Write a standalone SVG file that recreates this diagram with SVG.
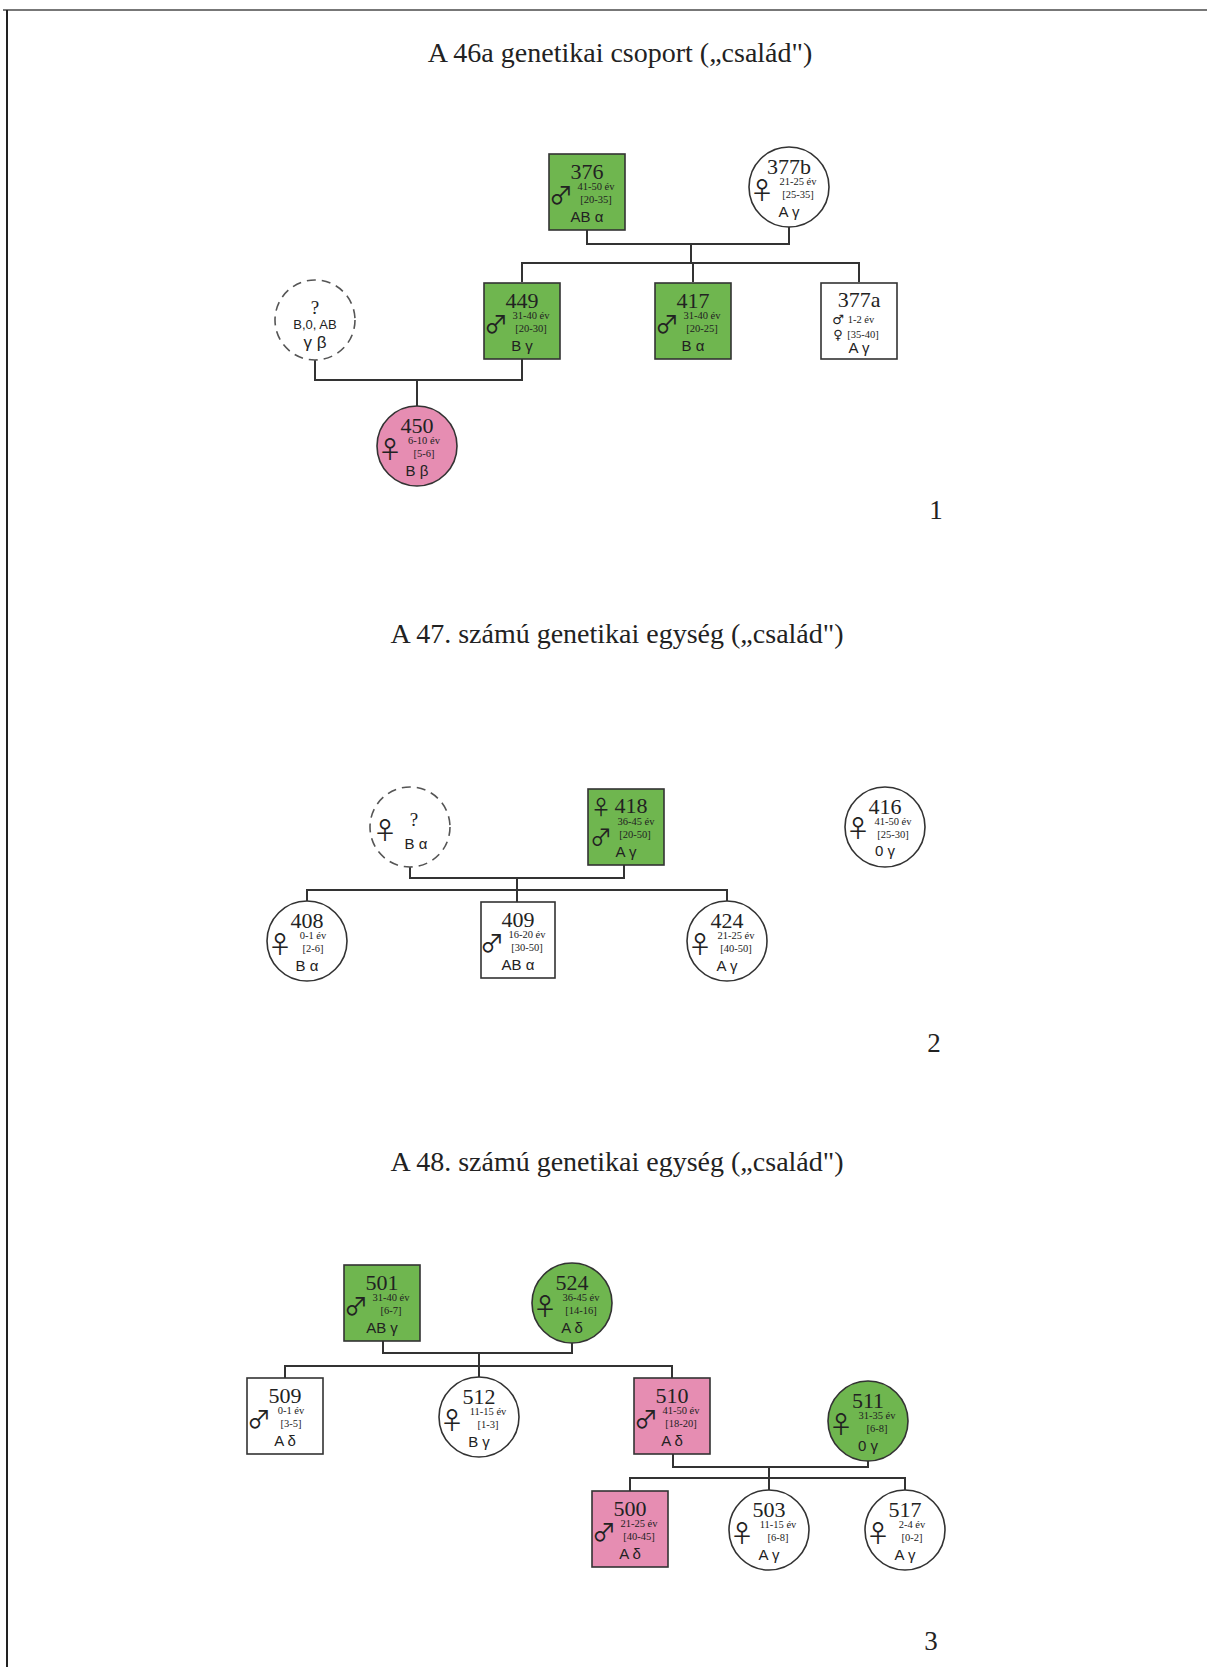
<svg xmlns="http://www.w3.org/2000/svg" width="1207" height="1667" viewBox="0 0 1207 1667">
<style>
.bx{fill:#fff;stroke:#333;stroke-width:1.6}
.g{fill:#6fb64f}
.p{fill:#e68db2}
.dash{fill:#fff;stroke:#555;stroke-width:1.6;stroke-dasharray:9 6}
.ln{fill:none;stroke:#333;stroke-width:2}
text{fill:#222}
.ttl{font-family:"Liberation Serif",serif;font-size:28px;text-anchor:middle}
.num{font-family:"Liberation Serif",serif;font-size:27px;text-anchor:middle}
.id{font-family:"Liberation Serif",serif;font-size:22px;text-anchor:middle}
.sm{font-family:"Liberation Serif",serif;font-size:10.5px;text-anchor:middle}
.sx{font-family:"Noto Sans CJK JP","DejaVu Sans",sans-serif;font-size:24px;text-anchor:middle}
.sx2{font-family:"DejaVu Sans",sans-serif;font-size:13px;text-anchor:middle}
.bg{font-family:"Liberation Sans",sans-serif;font-size:15px;text-anchor:middle}
</style>
<rect width="1207" height="1667" fill="#fff"/>
<g id="frame">
<line x1="3" y1="10" x2="1207" y2="10" stroke="#777" stroke-width="2"/>
<line x1="7" y1="10" x2="7" y2="1667" stroke="#222" stroke-width="2"/>
</g>
<g id="titles">
<text class="ttl" x="620" y="62">A 46a  genetikai csoport („család")</text>
<text class="ttl" x="617" y="643">A 47. számú genetikai egység  („család")</text>
<text class="ttl" x="617" y="1171">A 48. számú genetikai egység  („család")</text>
<text class="num" x="936" y="519">1</text>
<text class="num" x="934" y="1052">2</text>
<text class="num" x="931" y="1650">3</text>
</g>
<g id="connectors">
<path class="ln" d="M587 230 V244 H789 V227"/>
<path class="ln" d="M691 244 V263"/>
<path class="ln" d="M522 282 V263 H859 V282 M693 263 V282"/>
<path class="ln" d="M315 360 V380 H522 V359"/>
<path class="ln" d="M417 380 V406"/>
<path class="ln" d="M410 867 V878 H624 V865"/>
<path class="ln" d="M517 878 V890"/>
<path class="ln" d="M307 901 V890 H727 V901 M517 890 V902"/>
<path class="ln" d="M383 1341 V1353 H572 V1343"/>
<path class="ln" d="M479 1353 V1366"/>
<path class="ln" d="M285 1378 V1366 H672 V1378 M479 1366 V1377"/>
<path class="ln" d="M673 1454 V1467 H868 V1461"/>
<path class="ln" d="M769 1467 V1478"/>
<path class="ln" d="M630 1491 V1478 H905 V1490 M769 1478 V1490"/>
</g>
<g id="n376" transform="translate(587,192)">
<rect class="bx g" x="-38" y="-38" width="76" height="76"/>
<text class="id" y="-13">376</text><text class="sx" x="-26" y="12">♂</text>
<text class="sm" x="9" y="-2">41-50 év</text><text class="sm" x="9" y="11">[20-35]</text>
<text class="bg" y="30">AB α</text>
</g>
<g id="n377b" transform="translate(789,187)">
<circle class="bx" r="40"/>
<text class="id" y="-13">377b</text><text class="sx" x="-27" y="12">♀</text>
<text class="sm" x="9" y="-2">21-25 év</text><text class="sm" x="9" y="11">[25-35]</text>
<text class="bg" y="30">A γ</text>
</g>
<g id="nq1" transform="translate(315,320)">
<circle class="dash" r="40"/>
<text class="id" y="-6" style="font-size:19px">?</text>
<text class="bg" y="9" style="font-size:13px">B,0, AB</text>
<text class="bg" y="28" style="font-size:17px">γ β</text>
</g>
<g id="n449" transform="translate(522,321)">
<rect class="bx g" x="-38" y="-38" width="76" height="76"/>
<text class="id" y="-13">449</text><text class="sx" x="-26" y="12">♂</text>
<text class="sm" x="9" y="-2">31-40 év</text><text class="sm" x="9" y="11">[20-30]</text>
<text class="bg" y="30">B γ</text>
</g>
<g id="n417" transform="translate(693,321)">
<rect class="bx g" x="-38" y="-38" width="76" height="76"/>
<text class="id" y="-13">417</text><text class="sx" x="-26" y="12">♂</text>
<text class="sm" x="9" y="-2">31-40 év</text><text class="sm" x="9" y="11">[20-25]</text>
<text class="bg" y="30">B α</text>
</g>
<g id="n377a" transform="translate(859,321)">
<rect class="bx" x="-38" y="-38" width="76" height="76"/>
<text class="id" y="-14">377a</text>
<text class="sx2" x="-21" y="3">♂</text><text class="sm" x="2" y="2">1-2 év</text>
<text class="sx2" x="-21" y="18">♀</text><text class="sm" x="4" y="17">[35-40]</text>
<text class="bg" y="32">A γ</text>
</g>
<g id="n450" transform="translate(417,446)">
<circle class="bx p" r="40"/>
<text class="id" y="-13">450</text><text class="sx" x="-27" y="12">♀</text>
<text class="sm" x="7" y="-2">6-10 év</text><text class="sm" x="7" y="11">[5-6]</text>
<text class="bg" y="30">B β</text>
</g>
<g id="nq2" transform="translate(410,827)">
<circle class="dash" r="40"/>
<text class="sx" x="-25" y="12">♀</text>
<text class="id" x="4" y="-1" style="font-size:19px">?</text>
<text class="bg" x="6" y="22">B α</text>
</g>
<g id="n418" transform="translate(626,827)">
<rect class="bx g" x="-38" y="-38" width="76" height="76"/>
<text class="sx" x="-25" y="-12" style="font-size:20px">♀</text>
<text class="id" x="5" y="-14">418</text>
<text class="sm" x="10" y="-2">36-45 év</text>
<text class="sx" x="-25" y="18" style="font-size:22px">♂</text>
<text class="sm" x="9" y="11">[20-50]</text>
<text class="bg" y="30">A γ</text>
</g>
<g id="n416" transform="translate(885,827)">
<circle class="bx" r="40"/>
<text class="id" y="-13">416</text><text class="sx" x="-27" y="10">♀</text>
<text class="sm" x="8" y="-2">41-50 év</text><text class="sm" x="8" y="11">[25-30]</text>
<text class="bg" y="29">0 γ</text>
</g>
<g id="n408" transform="translate(307,941)">
<circle class="bx" r="40"/>
<text class="id" y="-13">408</text><text class="sx" x="-27" y="12">♀</text>
<text class="sm" x="6" y="-2">0-1 év</text><text class="sm" x="6" y="11">[2-6]</text>
<text class="bg" y="30">B α</text>
</g>
<g id="n409" transform="translate(518,940)">
<rect class="bx" x="-37" y="-38" width="74" height="76"/>
<text class="id" y="-13">409</text><text class="sx" x="-26" y="12">♂</text>
<text class="sm" x="9" y="-2">16-20 év</text><text class="sm" x="9" y="11">[30-50]</text>
<text class="bg" y="30">AB α</text>
</g>
<g id="n424" transform="translate(727,941)">
<circle class="bx" r="40"/>
<text class="id" y="-13">424</text><text class="sx" x="-27" y="12">♀</text>
<text class="sm" x="9" y="-2">21-25 év</text><text class="sm" x="9" y="11">[40-50]</text>
<text class="bg" y="30">A γ</text>
</g>
<g id="n501" transform="translate(382,1303)">
<rect class="bx g" x="-38" y="-38" width="76" height="76"/>
<text class="id" y="-13">501</text><text class="sx" x="-26" y="12">♂</text>
<text class="sm" x="9" y="-2">31-40 év</text><text class="sm" x="9" y="11">[6-7]</text>
<text class="bg" y="30">AB γ</text>
</g>
<g id="n524" transform="translate(572,1303)">
<circle class="bx g" r="40"/>
<text class="id" y="-13">524</text><text class="sx" x="-27" y="12">♀</text>
<text class="sm" x="9" y="-2">36-45 év</text><text class="sm" x="9" y="11">[14-16]</text>
<text class="bg" y="30">A δ</text>
</g>
<g id="n509" transform="translate(285,1416)">
<rect class="bx" x="-38" y="-38" width="76" height="76"/>
<text class="id" y="-13">509</text><text class="sx" x="-26" y="12">♂</text>
<text class="sm" x="6" y="-2">0-1 év</text><text class="sm" x="6" y="11">[3-5]</text>
<text class="bg" y="30">A δ</text>
</g>
<g id="n512" transform="translate(479,1417)">
<circle class="bx" r="40"/>
<text class="id" y="-13">512</text><text class="sx" x="-27" y="12">♀</text>
<text class="sm" x="9" y="-2">11-15 év</text><text class="sm" x="9" y="11">[1-3]</text>
<text class="bg" y="30">B γ</text>
</g>
<g id="n510" transform="translate(672,1416)">
<rect class="bx p" x="-38" y="-38" width="76" height="76"/>
<text class="id" y="-13">510</text><text class="sx" x="-26" y="12">♂</text>
<text class="sm" x="9" y="-2">41-50 év</text><text class="sm" x="9" y="11">[18-20]</text>
<text class="bg" y="30">A δ</text>
</g>
<g id="n511" transform="translate(868,1421)">
<circle class="bx g" r="40"/>
<text class="id" y="-13">511</text><text class="sx" x="-27" y="12">♀</text>
<text class="sm" x="9" y="-2">31-35 év</text><text class="sm" x="9" y="11">[6-8]</text>
<text class="bg" y="30">0 γ</text>
</g>
<g id="n500" transform="translate(630,1529)">
<rect class="bx p" x="-38" y="-38" width="76" height="76"/>
<text class="id" y="-13">500</text><text class="sx" x="-26" y="12">♂</text>
<text class="sm" x="9" y="-2">21-25 év</text><text class="sm" x="9" y="11">[40-45]</text>
<text class="bg" y="30">A δ</text>
</g>
<g id="n503" transform="translate(769,1530)">
<circle class="bx" r="40"/>
<text class="id" y="-13">503</text><text class="sx" x="-27" y="12">♀</text>
<text class="sm" x="9" y="-2">11-15 év</text><text class="sm" x="9" y="11">[6-8]</text>
<text class="bg" y="30">A γ</text>
</g>
<g id="n517" transform="translate(905,1530)">
<circle class="bx" r="40"/>
<text class="id" y="-13">517</text><text class="sx" x="-27" y="12">♀</text>
<text class="sm" x="7" y="-2">2-4 év</text><text class="sm" x="7" y="11">[0-2]</text>
<text class="bg" y="30">A γ</text>
</g>
</svg>
